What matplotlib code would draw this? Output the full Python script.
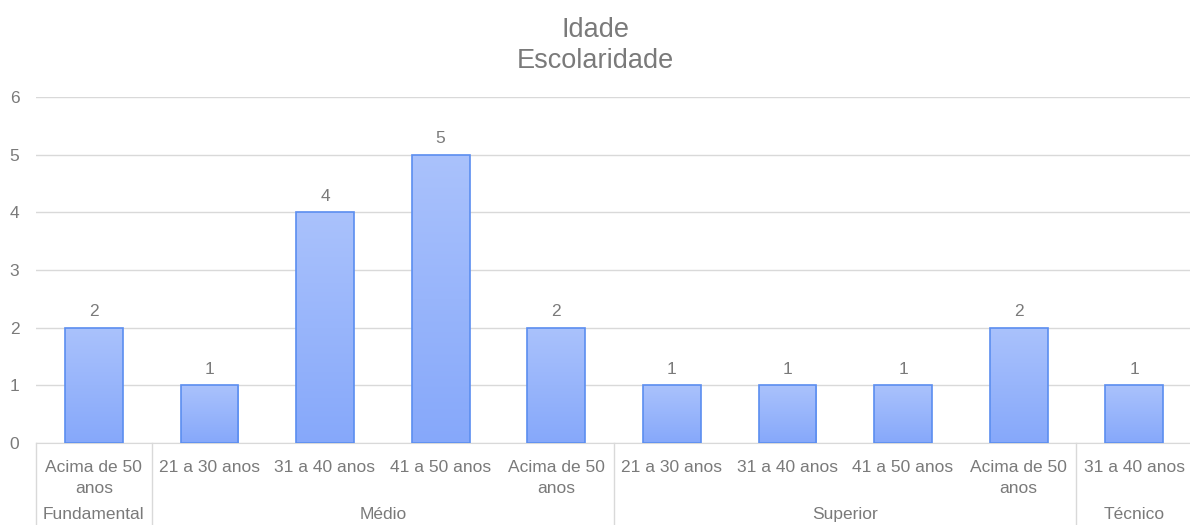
import numpy as np
import matplotlib
matplotlib.use("Agg")
import matplotlib.pyplot as plt
from matplotlib.colors import LinearSegmentedColormap
from matplotlib.transforms import blended_transform_factory

plt.rcParams['font.family'] = ['Liberation Sans', 'DejaVu Sans']

# dados
idades = ['Acima de 50\nanos', '21 a 30 anos', '31 a 40 anos', '41 a 50 anos', 'Acima de 50\nanos',
          '21 a 30 anos', '31 a 40 anos', '41 a 50 anos', 'Acima de 50\nanos', '31 a 40 anos']
escolaridade = ['Fundamental', 'Médio', 'Superior', 'Técnico']
tamanho_grupo = [1, 4, 4, 1]
valores = [2, 1, 4, 5, 2, 1, 1, 1, 2, 1]

cinza = '#7a7a7a'
grade = '#d9d9d9'

fig = plt.figure(figsize=(11.9, 5.25), dpi=100)
ax = fig.add_axes([36 / 1190, 82 / 525, 1156 / 1190, 346 / 525])

x = np.arange(len(valores))
barras = ax.bar(x, valores, width=0.5, color='none', edgecolor='#5b8ef0', linewidth=1.2, zorder=3)

# degradê nas barras
cmap = LinearSegmentedColormap.from_list('azul', ['#86a8fa', '#aac2fc'])
grad = np.linspace(0, 1, 256).reshape(-1, 1)
for b in barras:
    x0, y0 = b.get_x(), b.get_y()
    im = ax.imshow(grad, cmap=cmap, aspect='auto', origin='lower',
                   extent=[x0, x0 + b.get_width(), y0, y0 + b.get_height()], zorder=2)
    im.set_clip_path(b)

for xi, v in zip(x, valores):
    ax.annotate(str(v), (xi, v), xytext=(0, 6), textcoords='offset points',
                ha='center', va='bottom', fontsize=12.5, color=cinza)

ax.set_xlim(-0.5, len(valores) - 0.5)
ax.set_ylim(0, 6)
ax.set_yticks(range(7))
ax.yaxis.grid(True, color=grade, linewidth=1)
ax.set_axisbelow(True)
ax.tick_params(axis='y', length=0, pad=12, labelsize=12.5, labelcolor=cinza)
ax.set_xticks([])
for s in ['top', 'right', 'left']:
    ax.spines[s].set_visible(False)
ax.spines['bottom'].set_color(grade)

tr = blended_transform_factory(ax.transData, ax.transAxes)
for xi, lab in zip(x, idades):
    ax.text(xi, -0.05, lab, transform=tr, ha='center', va='top', fontsize=12.5,
            color=cinza, linespacing=1.45)

inicio = -0.5
fundo = -82 / 346
for nome, n in zip(escolaridade, tamanho_grupo):
    ax.plot([inicio, inicio], [0, fundo], transform=tr, color=grade, linewidth=1, clip_on=False)
    ax.text(inicio + n / 2, -0.207, nome, transform=tr, ha='center', va='center',
            fontsize=12.5, color=cinza)
    inicio += n

fig.text(0.5, 1 - 30 / 525, 'Idade', ha='center', va='center', fontsize=19.5, color=cinza)
fig.text(0.5, 1 - 61 / 525, 'Escolaridade', ha='center', va='center', fontsize=19.5, color=cinza)

fig.savefig('out.png', dpi=100)
